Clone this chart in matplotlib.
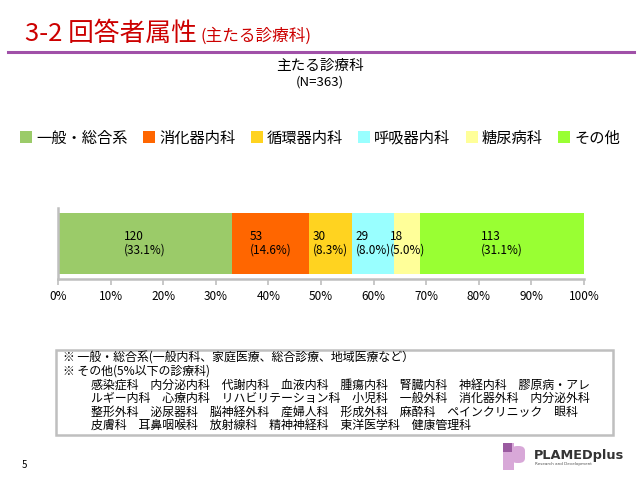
import matplotlib
matplotlib.use("Agg")
import matplotlib.pyplot as plt
from matplotlib.patches import Rectangle, FancyBboxPatch
from matplotlib.lines import Line2D

plt.rcParams['font.family'] = ['Noto Sans CJK JP', 'DejaVu Sans']

categories = ['一般・総合系', '消化器内科', '循環器内科', '呼吸器内科', '糖尿病科', 'その他']
counts = [120, 53, 30, 29, 18, 113]
percents = [33.1, 14.6, 8.3, 8.0, 5.0, 31.1]
colors = ['#9BCB69', '#FF6600', '#FFD320', '#99FFFF', '#FFFF99', '#99FF33']
xticks = [0, 10, 20, 30, 40, 50, 60, 70, 80, 90, 100]
xticklabels = [f'{t}%' for t in xticks]
note_lines = [
    '※ 一般・総合系(一般内科、家庭医療、総合診療、地域医療など）',
    '※ その他(5%以下の診療科)',
    '感染症科　内分泌内科　代謝内科　血液内科　腫瘍内科　腎臓内科　神経内科　膠原病・アレ',
    'ルギー内科　心療内科　リハビリテーション科　小児科　一般外科　消化器外科　内分泌外科',
    '整形外科　泌尿器科　脳神経外科　産婦人科　形成外科　麻酔科　ペインクリニック　眼科',
    '皮膚科　耳鼻咽喉科　放射線科　精神神経科　東洋医学科　健康管理科',
]

W, H = 640, 480
fig = plt.figure(figsize=(6.4, 4.8), dpi=100)

def fx(x): return x / W
def fy(y): return 1 - y / H

# Header
fig.text(fx(25), fy(41), '3-2 回答者属性', color='#CC0000', fontsize=18.5, va='baseline', ha='left')
fig.text(fx(200), fy(41), '(主たる診療科)', color='#CC0000', fontsize=12, va='baseline', ha='left')
fig.add_artist(Line2D([fx(8), fx(634)], [fy(51.5), fy(51.5)], color='#A050A8', lw=2.2))

# Chart title
fig.text(0.5, fy(66), '主たる診療科', ha='center', va='center', fontsize=10.5)
fig.text(0.5, fy(82), '(N=363)', ha='center', va='center', fontsize=9.5)

# Axes
ax = fig.add_axes([fx(58), fy(279), fx(584) - fx(58), fy(208) - fy(279)])
total = sum(counts)
left = 0.0
handles = []
for cat, c, p, col in zip(categories, counts, percents, colors):
    w = c / total * 100
    b = ax.barh(0, w, left=left, height=0.86, color=col, edgecolor='none', label=cat)
    handles.append(b)
    ax.text(left + w / 2, 0, f'{c}\n({p:.1f}%)', ha='center', va='center',
            multialignment='left', fontsize=8.5, linespacing=1.1)
    left += w
ax.set_xlim(0, 100)
ax.set_ylim(-0.5, 0.5)
ax.set_xticks(xticks)
ax.set_xticklabels(xticklabels, fontsize=8.5)
ax.set_yticks([])
for s in ['top', 'right']:
    ax.spines[s].set_visible(False)
for s in ['left', 'bottom']:
    ax.spines[s].set_color('#BFBFBF')
    ax.spines[s].set_linewidth(1.8)
ax.tick_params(axis='x', length=4, width=1.2, color='#BFBFBF', pad=4)
ax.patch.set_alpha(0)

# Legend
fig.legend(handles=handles, labels=categories, loc='center', bbox_to_anchor=(0.5, fy(138)),
           ncol=6, frameon=False, fontsize=11, handlelength=0.8, handleheight=0.8,
           handletextpad=0.25, columnspacing=1.0)

# Notes box
fig.add_artist(Rectangle((fx(56), fy(435)), fx(613) - fx(56), fy(350) - fy(435),
                         fill=False, edgecolor='#BFBFBF', lw=1.8))
ys = [358, 371.5, 385, 398.5, 412, 425.5]
for i, (line, y) in enumerate(zip(note_lines, ys)):
    x = 63 if i < 2 else 91
    fig.text(fx(x), fy(y), line, fontsize=8.6, va='center', ha='left')

# Page number
fig.text(fx(22), fy(465), '5', fontsize=7, va='center', ha='left')

# Logo
fig.add_artist(Rectangle((fx(503), fy(470)), fx(11) - fx(0), fy(443) - fy(470), color='#D8A8D8', lw=0))
fig.add_artist(FancyBboxPatch((fx(511), fy(463)), fx(14), fy(446) - fy(463),
                              boxstyle='round,pad=0,rounding_size=0.01', color='#D8A8D8', lw=0))
fig.add_artist(Rectangle((fx(503), fy(452)), fx(9), fy(443) - fy(452), color='#9A5AA0', lw=0))
fig.text(fx(534), fy(455), 'PLAMEDplus', fontsize=9.3, fontweight='bold', color='#333333',
         family='DejaVu Sans', va='center', ha='left')
fig.text(fx(535), fy(464), 'Research and Development', fontsize=3.0, color='#555555',
         family='DejaVu Sans', va='center', ha='left')

fig.savefig('out.png', dpi=100)
